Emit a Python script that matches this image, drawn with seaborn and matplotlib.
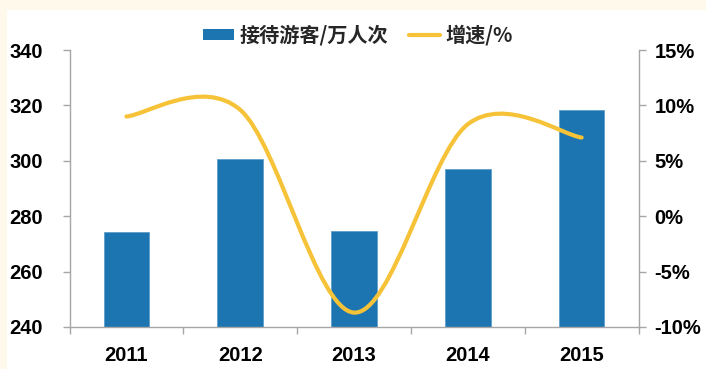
import matplotlib
matplotlib.use("Agg")
import matplotlib.pyplot as plt
import seaborn as sns
import pandas as pd
import numpy as np
from matplotlib.path import Path
from matplotlib.patches import PathPatch, Rectangle
from matplotlib.ticker import FuncFormatter, FixedLocator

years = ["2011", "2012", "2013", "2014", "2015"]
visitors = [274.2, 300.6, 274.5, 296.9, 318.2]   # 接待游客/万人次
growth = [9.0, 9.6, -8.7, 8.3, 7.1]               # 增速/%
bar_label = "接待游客/万人次"
line_label = "增速/%"

BAR_COLOR = "#1C74B0"
LINE_COLOR = "#F6C237"
CREAM = "#FFF9EC"
AXIS_GRAY = "#A6A6A6"

sns.set_theme(style="white")
plt.rcParams["font.family"] = ["Liberation Sans", "Noto Sans CJK SC", "DejaVu Sans"]

W, H = 706, 369
fig = plt.figure(figsize=(W / 100, H / 100), dpi=100)
fig.patch.set_facecolor(CREAM)
fig.patches.append(Rectangle((7 / W, 0), 1 - 7 / W, 1 - 10 / H, transform=fig.transFigure,
                             facecolor="white", edgecolor="none", zorder=-10))

left, right, bottom, top = 69.5 / W, 638.5 / W, (H - 327) / H, (H - 50) / H
ax = fig.add_axes([left, bottom, right - left, top - bottom])
ax.set_facecolor("none")

df = pd.DataFrame({"year": years, "visitors": visitors})
sns.barplot(data=df, x="year", y="visitors", color=BAR_COLOR, width=0.4, saturation=1,
            edgecolor="#5E9FCC", linewidth=0.6, ax=ax, zorder=2)
ax.set_xlim(-0.5, 4.5)
ax.set_ylim(240, 340)
ax.set_yticks([240, 260, 280, 300, 320, 340])
ax.set_xlabel("")
ax.set_ylabel("")

ax2 = ax.twinx()
ax2.set_ylim(-10, 15)
ax2.set_yticks([-10, -5, 0, 5, 10, 15])
ax2.yaxis.set_major_formatter(FuncFormatter(lambda v, p: f"{v:.0f}%"))

# Smoothed line (Catmull-Rom style Bezier through the data points)
xs = np.arange(len(growth), dtype=float)
ys = np.array(growth, dtype=float)
pts = np.column_stack([xs, ys])
verts = [tuple(pts[0])]
codes = [Path.MOVETO]
n = len(pts)
for i in range(n - 1):
    p0 = pts[max(i - 1, 0)]
    p1 = pts[i]
    p2 = pts[i + 1]
    p3 = pts[min(i + 2, n - 1)]
    c1 = p1 + (p2 - p0) / 6.0
    c2 = p2 - (p3 - p1) / 6.0
    verts += [tuple(c1), tuple(c2), tuple(p2)]
    codes += [Path.CURVE4] * 3
patch = PathPatch(Path(verts, codes), facecolor="none", edgecolor=LINE_COLOR,
                  linewidth=3.0, capstyle="round", joinstyle="round", zorder=3)
ax2.add_patch(patch)

# spines & ticks
for a in (ax, ax2):
    for s in a.spines.values():
        s.set_color(AXIS_GRAY)
        s.set_linewidth(1.0)
    a.spines["top"].set_visible(False)
ax.spines["right"].set_visible(False)
ax2.spines["left"].set_visible(False)
ax2.spines["bottom"].set_visible(False)

ax.xaxis.set_major_locator(FixedLocator([-0.5, 0.5, 1.5, 2.5, 3.5, 4.5]))
ax.xaxis.set_minor_locator(FixedLocator(list(range(len(years)))))
ax.set_xticklabels([], minor=False)
ax.set_xticklabels(years, minor=True)
ax.tick_params(axis="x", which="major", direction="out", length=5, width=1, color=AXIS_GRAY,
               bottom=True)
ax.tick_params(axis="x", which="minor", length=0, pad=14, labelsize=14.5, labelcolor="black")
ax.tick_params(axis="y", direction="out", length=5, width=1, color=AXIS_GRAY, left=True,
               pad=14, labelsize=14.5, labelcolor="black")
ax2.tick_params(axis="y", direction="out", length=5, width=1, color=AXIS_GRAY, right=True,
                pad=6.5, labelsize=14.5, labelcolor="black")
for lab in ax.get_xticklabels(minor=True) + ax.get_yticklabels() + ax2.get_yticklabels():
    lab.set_fontweight("bold")
    lab.set_family(["Liberation Sans", "DejaVu Sans"])

# legend
handles = [Rectangle((0, 0), 1, 1, facecolor=BAR_COLOR, edgecolor="none"),
           plt.Line2D([0], [0], color=LINE_COLOR, linewidth=3.0, solid_capstyle="round")]
leg = fig.legend(handles, [bar_label, line_label], loc="center",
                 bbox_to_anchor=(358 / W, 1 - 35 / H), ncol=2, frameon=False,
                 prop=dict(family=["Noto Sans CJK SC", "DejaVu Sans"], weight="black", size=14.5),
                 handlelength=1.55, handleheight=0.45, handletextpad=0.25, columnspacing=1.05,
                 borderpad=0, borderaxespad=0)

fig.savefig("out.png", dpi=100, facecolor=fig.get_facecolor())
